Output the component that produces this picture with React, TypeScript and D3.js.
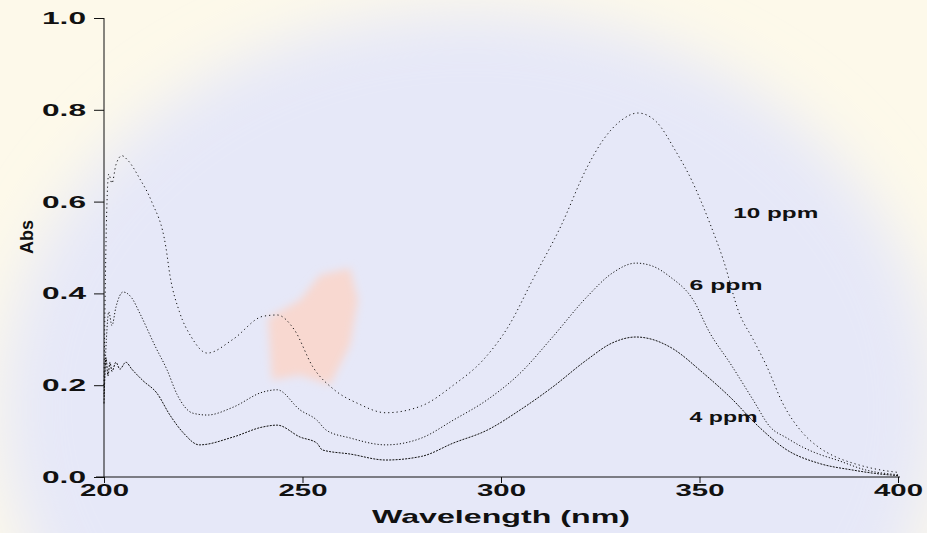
import React, { useEffect, useRef } from "react";
import * as d3 from "d3";

// wavelength (nm) / absorbance pairs
const wl10 = [200, 200.6, 201.2, 202, 203, 204.5, 206, 209, 212, 215.6, 216.6, 219, 222, 226, 232.5, 240, 243.6, 248, 252.6, 258, 264, 271, 280, 288, 295.5, 302, 308, 315, 321.7, 325.7, 330, 334.5, 339, 344, 348, 352.6, 356, 360, 363.5, 367, 371, 376, 380, 384, 388.7, 394, 400];
const abs10 = [0.2, 0.55, 0.66, 0.64, 0.68, 0.7, 0.69, 0.65, 0.6, 0.5, 0.44, 0.36, 0.305, 0.27, 0.3, 0.35, 0.353, 0.32, 0.24, 0.19, 0.16, 0.14, 0.155, 0.2, 0.255, 0.33, 0.43, 0.545, 0.675, 0.734, 0.775, 0.793, 0.775, 0.71, 0.647, 0.553, 0.473, 0.357, 0.3, 0.24, 0.16, 0.096, 0.065, 0.045, 0.03, 0.018, 0.01];

const wl6 = [200, 200.6, 201.2, 202, 203, 204.8, 207, 209, 213, 215.9, 218.4, 222.4, 226, 232.5, 240, 243.6, 249.4, 253.6, 256, 262, 271, 280, 288, 296.5, 304.8, 313, 321.6, 328, 334, 338, 342.6, 348.4, 352.6, 357.7, 363.5, 367.8, 372, 376, 380, 384.6, 392, 400];
const abs6 = [0.18, 0.3, 0.36, 0.33, 0.37, 0.403, 0.39, 0.357, 0.283, 0.233, 0.18, 0.139, 0.135, 0.152, 0.185, 0.19, 0.146, 0.124, 0.102, 0.085, 0.07, 0.085, 0.124, 0.168, 0.226, 0.305, 0.392, 0.444, 0.466, 0.46, 0.436, 0.386, 0.314, 0.248, 0.168, 0.109, 0.085, 0.065, 0.05, 0.037, 0.015, 0.005];

const wl4 = [200, 200.5, 201, 201.5, 202, 203, 204, 205.5, 207, 209.8, 213.3, 216.6, 220, 224, 232.5, 240, 243.6, 249.4, 253.6, 255, 262, 271, 280, 288, 296.5, 304.8, 313, 321.6, 328, 334, 338, 342.6, 351, 357.7, 365, 372, 380, 388.7, 394, 400];
const abs4 = [0.16, 0.26, 0.22, 0.25, 0.23, 0.25, 0.235, 0.25, 0.235, 0.21, 0.183, 0.135, 0.096, 0.07, 0.087, 0.109, 0.113, 0.087, 0.074, 0.059, 0.05, 0.037, 0.045, 0.074, 0.102, 0.146, 0.196, 0.255, 0.292, 0.305, 0.3, 0.283, 0.226, 0.174, 0.109, 0.059, 0.03, 0.015, 0.008, 0.003];

const seriesNames = ["10 ppm", "6 ppm", "4 ppm"];
const xTicks = [200, 250, 300, 350, 400];
const yTicks = [0.0, 0.2, 0.4, 0.6, 0.8, 1.0];
const yTickLabels = ["0.0", "0.2", "0.4", "0.6", "0.8", "1.0"];

const App = () => {
  const svgRef = useRef(null);

  useEffect(() => {
    const W = 927;
    const H = 533;
    const svg = d3.select(svgRef.current);
    svg.selectAll("*").remove();

    // scanned watermark background, roughly
    const defs = svg.append("defs");
    defs.append("filter").attr("id", "blur").append("feGaussianBlur").attr("stdDeviation", 30);
    defs.append("filter").attr("id", "blur2").append("feGaussianBlur").attr("stdDeviation", 4);
    svg.append("rect").attr("width", W).attr("height", H).attr("fill", "#fdf9ea");
    svg.append("ellipse").attr("cx", 470).attr("cy", 410).attr("rx", 470).attr("ry", 400)
      .attr("fill", "#e6e8f8").attr("filter", "url(#blur)");
    svg.append("path")
      .attr("d", "M268,318 L300,300 L320,275 L350,268 L358,300 L350,345 L330,385 L300,375 L272,380 Z")
      .attr("fill", "#f8d8d0").attr("filter", "url(#blur2)");

    const x = d3.scaleLinear().domain([200, 400]).range([104, 898]);
    const y = d3.scaleLinear().domain([0, 1]).range([477, 18]);

    const tickFont = "'Liberation Sans', Arial, sans-serif";

    // axes
    const xAxis = d3.axisBottom(x).tickValues(xTicks).tickSize(6).tickFormat(d3.format("d"));
    const gx = svg.append("g").attr("transform", "translate(0,477)").call(xAxis);
    gx.select(".domain").attr("d", "M96,0H900").attr("stroke", "#111");
    gx.selectAll("line").attr("stroke", "#111");
    gx.selectAll("text")
      .attr("y", 19).attr("dy", 0)
      .attr("font-family", tickFont).attr("font-weight", "bold").attr("font-size", 17)
      .attr("fill", "#111")
      .attr("textLength", 49).attr("lengthAdjust", "spacingAndGlyphs");

    const yAxis = d3.axisLeft(y).tickValues(yTicks).tickSize(10).tickPadding(8)
      .tickFormat((d, i) => yTickLabels[i]);
    const gy = svg.append("g").attr("transform", "translate(104,0)").call(yAxis);
    gy.select(".domain").attr("d", "M0,18V477").attr("stroke", "#111");
    gy.selectAll("line").attr("stroke", "#111");
    gy.selectAll("text")
      .attr("font-family", tickFont).attr("font-weight", "bold").attr("font-size", 17)
      .attr("fill", "#111")
      .attr("textLength", 44).attr("lengthAdjust", "spacingAndGlyphs");

    // axis titles
    svg.append("text")
      .attr("x", x(300)).attr("y", 523).attr("text-anchor", "middle")
      .attr("font-family", tickFont).attr("font-weight", "bold").attr("font-size", 19)
      .attr("fill", "#111")
      .attr("textLength", 258).attr("lengthAdjust", "spacingAndGlyphs")
      .text("Wavelength (nm)");
    svg.append("text")
      .attr("transform", "translate(33,237) rotate(-90)")
      .attr("text-anchor", "middle")
      .attr("font-family", tickFont).attr("font-weight", "bold").attr("font-size", 18)
      .attr("fill", "#111")
      .text("Abs");

    // spectra
    const line = d3.line()
      .x((d) => x(d[0]))
      .y((d) => y(d[1]))
      .curve(d3.curveMonotoneX);

    const series = [
      { wl: wl10, abs: abs10, dash: "1.2 3" },
      { wl: wl6, abs: abs6, dash: "1.2 2" },
      { wl: wl4, abs: abs4, dash: "2 1.2" },
    ];
    series.forEach((s) => {
      const pts = s.wl.map((w, i) => [w, s.abs[i]]);
      svg.append("path")
        .attr("d", line(pts))
        .attr("fill", "none")
        .attr("stroke", "#111")
        .attr("stroke-width", 1)
        .attr("stroke-dasharray", s.dash);
    });

    // curve labels
    const labelPos = [
      { wl: 358.5, a: -0.14, len: 85 },
      { wl: 347.5, a: 0.0, len: 73 },
      { wl: 347.5, a: 0.0, len: 68 },
    ];
    const labelY = [0.565, 0.408, 0.12];
    seriesNames.forEach((name, i) => {
      svg.append("text")
        .attr("x", x(labelPos[i].wl))
        .attr("y", y(labelY[i]))
        .attr("font-family", tickFont).attr("font-weight", "bold").attr("font-size", 15)
        .attr("fill", "#111")
        .attr("textLength", labelPos[i].len).attr("lengthAdjust", "spacingAndGlyphs")
        .text(name);
    });
  }, []);

  return (
    <svg
      ref={svgRef}
      width={927}
      height={533}
      style={{ position: "absolute", left: 0, top: 0, background: "white" }}
    ></svg>
  );
};

export default App;
